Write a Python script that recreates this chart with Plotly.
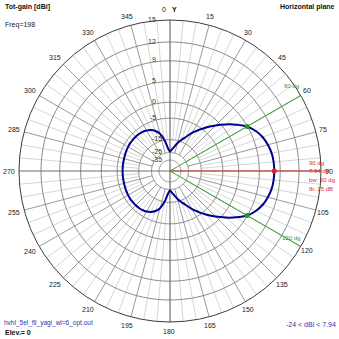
import numpy as np
import plotly.graph_objects as go

# Horizontal-plane total gain (dBi); pattern is symmetric about the 90/270 axis
half_angles = [0, 5, 10, 15, 20, 25, 30, 35, 40, 45, 50, 55, 60, 65, 70, 75, 80, 85, 90]
# front half, 0 -> 90 degrees
front_gain = [-24, -22, -19.5, -16.5, -14, -11.5, -8.5, -6, -3.5, -1.2, 1.0, 3.1, 4.94,
              6.1, 6.9, 7.4, 7.75, 7.9, 7.94]
# back half, 360 -> 270 degrees
back_gain = [-24, -21, -15, -11, -9.1, -8.0, -7.3, -6.9, -6.7, -6.6, -6.6, -6.6, -6.7,
             -6.8, -6.9, -7.0, -7.03, -7.05, -7.06]

ring_db = [15, 12, 9, 5, 0, -5, -15, -25, -35]
ring_labels = ["15", "12", "9", "5", "0", "-5", "-15", "-25", "-35"]
angle_ticks = list(range(0, 360, 15))

max_gain = 7.94
min_gain = -24
beam_lo, beam_hi = 60, 120
beamwidth = beam_hi - beam_lo
fb_ratio = 15
top_db = 15
K = 0.0525  # log-scale compression of the radial axis


def to_r(db):
    return np.exp(K * (np.asarray(db, dtype=float) - top_db))


# assemble full 0..360 pattern
theta, gain = [], []
for a, g in zip(half_angles, front_gain):                 # 0..90
    theta.append(a); gain.append(g)
for a, g in zip(half_angles[::-1][1:], front_gain[::-1][1:]):  # 95..180
    theta.append(180 - a); gain.append(g)
for a, g in zip(half_angles[1:], back_gain[1:]):           # 185..270
    theta.append(180 + a); gain.append(g)
for a, g in zip(half_angles[::-1][1:], back_gain[::-1][1:]):   # 275..360
    theta.append(360 - a); gain.append(g)

fig = go.Figure()

GRID_DARK = "#9a9a9a"
GRID_RING = "#8a8a8a"
GRID_LIGHT = "#d6d6d6"


def line_trace(th, rr, color, width):
    return go.Scatterpolar(theta=th, r=rr, mode="lines", line=dict(color=color, width=width),
                           hoverinfo="skip", showlegend=False)


# fine 5-degree spokes
for a in range(0, 360, 5):
    if a % 15:
        fig.add_trace(line_trace([a, a], [to_r(-15), 1.0], GRID_LIGHT, 1))
# 15-degree spokes
for a in angle_ticks:
    if a % 90:
        fig.add_trace(line_trace([a, a], [to_r(-25), 1.0], GRID_DARK, 1))
# rings
circ = np.arange(0, 361, 2)
for d in ring_db[1:]:
    fig.add_trace(line_trace(circ, np.full(circ.shape, to_r(d)), GRID_RING, 1))
# main axes
for a in (0, 90, 180, 270):
    fig.add_trace(line_trace([a, a], [0, 1.0], "#6e6e6e", 1.2))

# beamwidth and max-gain direction lines
for a in (beam_lo, beam_hi):
    fig.add_trace(line_trace([a, a], [0, 1.0], "#3aa83a", 1))
fig.add_trace(line_trace([90, 90], [0, 1.0], "#e03c3c", 1))

# pattern
fig.add_trace(go.Scatterpolar(theta=theta, r=to_r(gain), mode="lines",
                              line=dict(color="#000090", width=2, shape="spline"),
                              hoverinfo="skip", showlegend=False))

# marker dots
fig.add_trace(go.Scatterpolar(theta=[beam_lo, beam_hi], r=to_r([max_gain - 3, max_gain - 3]),
                              mode="markers", marker=dict(color="#1f9a1f", size=5),
                              hoverinfo="skip", showlegend=False))
fig.add_trace(go.Scatterpolar(theta=[90], r=to_r([max_gain]), mode="markers",
                              marker=dict(color="#dd2222", size=5),
                              hoverinfo="skip", showlegend=False))

# polar frame geometry in pixels
W = H = 339
CX, CY, R = 170, 171, 151

fig.update_layout(
    width=W, height=H,
    margin=dict(l=0, r=0, t=0, b=0),
    paper_bgcolor="white",
    plot_bgcolor="white",
    showlegend=False,
    font=dict(family="Liberation Sans", size=8, color="#222222"),
    polar=dict(
        domain=dict(x=[(CX - R) / W, (CX + R) / W], y=[(H - CY - R) / H, (H - CY + R) / H]),
        bgcolor="white",
        angularaxis=dict(rotation=90, direction="clockwise", tickmode="array",
                         tickvals=angle_ticks, showticklabels=False,
                         showgrid=False, showline=True, linecolor="#3c3c3c", linewidth=1,
                         ticks=""),
        radialaxis=dict(range=[0, 1], showgrid=False, showticklabels=False,
                        showline=False, ticks=""),
    ),
)


def add_text(x, y, text, size, color, xanchor="center", family="Liberation Sans"):
    fig.add_annotation(x=x / W, y=1 - y / H, xref="paper", yref="paper", text=text,
                       showarrow=False, xanchor=xanchor, yanchor="middle",
                       font=dict(size=size, color=color, family=family))


# angle labels around the frame
for a in angle_ticks:
    rad = np.deg2rad(a)
    x = CX + 160 * np.sin(rad) - 1.5
    y = CY - 160 * np.cos(rad)
    if a == 0:
        x, y = 164, 10
    add_text(x, y, str(a), 7, "#222222")

# ring labels just left of the vertical axis
for d, lab in zip(ring_db, ring_labels):
    y = CY - R * float(to_r(d)) - 1
    xr = 158 if d > -10 else 164
    add_text(xr, y, lab, 7, "#333333", xanchor="right")

red = "#d83030"
green = "#2f9a2f"
add_text(3, 7, "<b>Tot-gain [dBi]</b>", 7, "#111111", "left")
add_text(3, 25, "Freq=198", 7, "#222222", "left")
add_text(175, 10, "<b>Y</b>", 7, "#111111", "center")
add_text(337, 7, "<b>Horizontal plane</b>", 7, "#111111", "right")
add_text(2, 323, "hvhl_5el_fll_yagi_wl=6_opt.out", 6.5, "#2a36b0", "left")
add_text(3, 332, "<b>Elev.= 0</b>", 7, "#111111", "left")
add_text(338, 324, f"{min_gain} < dBi < {max_gain}", 7, "#2a36b0", "right")
add_text(307, 162.5, f"{90} dg", 6, red, "left")
add_text(307, 171, f"{max_gain} dB", 6, red, "left")
add_text(307, 179.5, f"bw: {beamwidth} dg", 6, red, "left")
add_text(307, 189, f"fb: {fb_ratio} dB", 6, red, "left")
add_text(301, 86, f"{beam_lo} dg", 6, green, "right")
add_text(302, 238, f"{beam_hi} dg", 6, green, "right")

fig.write_html("out.html")
